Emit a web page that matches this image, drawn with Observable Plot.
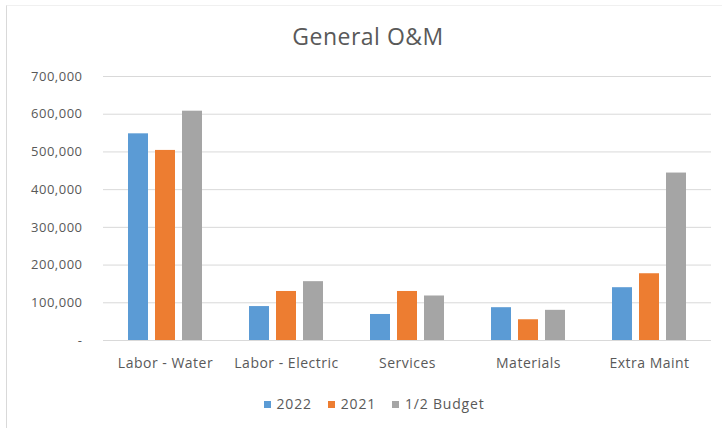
<!DOCTYPE html>
<html>
<head>
<meta charset="utf-8">
<script src="https://cdn.jsdelivr.net/npm/d3@7"></script>
<script src="https://cdn.jsdelivr.net/npm/@observablehq/plot@0.6"></script>
<style>
  html, body { margin: 0; padding: 0; background: #fff; }
  body { width: 722px; height: 428px; overflow: hidden; font-family: "Open Sans", Lato, sans-serif; }
  #wrap { position: relative; width: 722px; height: 428px; }
  #frame { position: absolute; left: 6px; top: 5px; width: 716px; height: 423px; border-left: 1px solid #d9d9d9; border-top: 1px solid #f0f0f0; box-sizing: border-box; }
  #title { position: absolute; left: 0; top: 20px; width: 736px; text-align: center; font-size: 23px; letter-spacing: 0.5px; color: #595959; }
  #chart { position: absolute; left: 0; top: 60px; }
  #legend { position: absolute; left: 0; top: 394px; width: 748px; text-align: center; font-size: 14px; letter-spacing: 0.8px; color: #595959; }
  #legend span.item { margin: 0 8px; }
  #legend span.sw { display: inline-block; width: 7px; height: 7px; margin-right: 6px; vertical-align: 1px; }
</style>
</head>
<body>
<div id="wrap">
  <div id="frame"></div>
  <div id="title">General O&amp;M</div>
  <div id="chart"></div>
  <div id="legend"></div>
</div>
<script>
const categories = ["Labor - Water", "Labor - Electric", "Services", "Materials", "Extra Maint"];
const seriesNames = ["2022", "2021", "1/2 Budget"];
const seriesColors = ["#5B9BD5", "#ED7D31", "#A5A5A5"];
const values2022 = [548000, 90000, 69000, 87000, 140000];
const values2021 = [504000, 130000, 130000, 55000, 177000];
const valuesBudget = [608000, 156000, 118000, 80000, 444000];
const yTicks = [0, 100000, 200000, 300000, 400000, 500000, 600000, 700000];

const allSeries = [values2022, values2021, valuesBudget];
const offsets = [-27, 0, 27];

const fmt = d => d === 0 ? "-" : d3.format(",")(d);

const marks = [
  Plot.ruleY(yTicks, {stroke: "#d9d9d9", strokeWidth: 1})
];
allSeries.forEach((vals, i) => {
  const rows = categories.map((c, j) => ({category: c, value: vals[j], series: seriesNames[i]}));
  marks.push(Plot.barY(rows, {x: "category", y: "value", fill: seriesColors[i], dx: offsets[i]}));
});
marks.push(Plot.text(yTicks, {
  y: d => d, text: fmt, frameAnchor: "left", textAnchor: "end", dx: -21,
  fill: "#595959", fontSize: 13, style: "letter-spacing:0.3px"
}));
marks.push(Plot.text(categories, {
  x: d => d, text: d => d, frameAnchor: "bottom", lineAnchor: "middle", dy: 23,
  fill: "#595959", fontSize: 14
}));

const chart = Plot.plot({
  width: 722,
  height: 320,
  marginTop: 16,
  marginBottom: 40,
  marginLeft: 103,
  marginRight: 11,
  style: {fontFamily: "'Open Sans', Lato, sans-serif", fontSize: "13px", color: "#595959", background: "transparent", letterSpacing: "0.5px"},
  x: {type: "band", domain: categories, paddingInner: 0.836, paddingOuter: 0.418, axis: null},
  y: {domain: [0, 700000], axis: null},
  marks
});
document.getElementById("chart").appendChild(chart);

const legend = document.getElementById("legend");
seriesNames.forEach((n, i) => {
  const item = document.createElement("span");
  item.className = "item";
  const sw = document.createElement("span");
  sw.className = "sw";
  sw.style.background = seriesColors[i];
  item.appendChild(sw);
  item.appendChild(document.createTextNode(n));
  legend.appendChild(item);
});
</script>
</body>
</html>
